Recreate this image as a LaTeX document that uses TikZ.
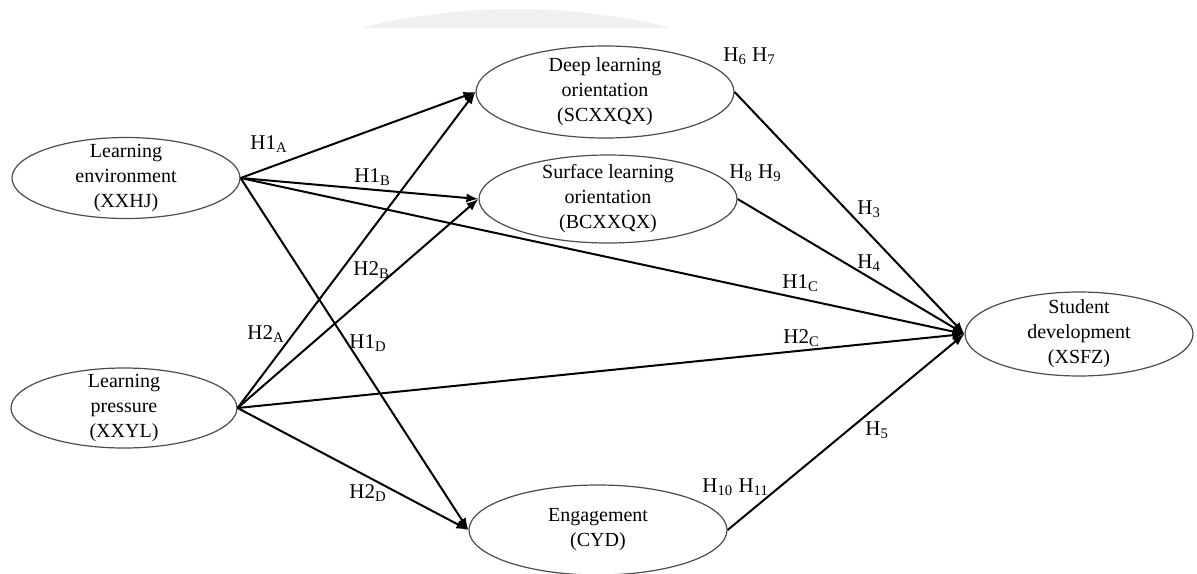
\documentclass[tikz,border=0pt]{standalone}
\usepackage{fontspec}
\setmainfont{Liberation Serif}
\usetikzlibrary{shapes.geometric,arrows.meta}
\newcommand\hyp[2]{H#1\textsubscript{#2}}
\begin{document}
\begin{tikzpicture}[x=0.5pt,y=-0.5pt,
  construct/.style={draw=black!70,line width=0.6pt,ellipse,inner sep=0pt},
  ctext/.style={align=center,font=\fontsize{10}{12.5}\selectfont,inner sep=0pt},
  path/.style={line width=1pt,-{Latex[length=6pt,width=4.6pt]}},
  link/.style={line width=1pt},
  hlabel/.style={anchor=base west,inner sep=0pt,font=\fontsize{10.5}{12}\selectfont}]
\useasboundingbox (0,0) rectangle (1197,573);

% faint banner shape at the top edge
\begin{scope}
  \clip (300,0) rectangle (750,27);
  \fill[black!6] (516,651) circle[radius=642];
\end{scope}

% constructs
\node[construct,minimum width=114pt,minimum height=40.5pt,
      label={[ctext]center:Learning\\environment\\(XXHJ)}] (env) at (126,178) {};
\node[construct,minimum width=113pt,minimum height=40pt,
      label={[ctext]center:Learning\\pressure\\(XXYL)}] (pres) at (124,408) {};
\node[construct,minimum width=129pt,minimum height=46pt,
      label={[ctext]center:Deep learning\\orientation\\(SCXXQX)}] (deep) at (605,92) {};
\node[construct,minimum width=129pt,minimum height=44pt,
      label={[ctext]center:Surface learning\\orientation\\(BCXXQX)}] (surf) at (608,199) {};
\node[construct,minimum width=114pt,minimum height=42pt,
      label={[ctext]center:Student\\development\\(XSFZ)}] (stud) at (1079,334) {};
\node[construct,minimum width=129pt,minimum height=45pt,
      label={[ctext]center:Engagement\\(CYD)}] (eng) at (598,530) {};

% paths from learning environment
\draw[path] (env.east) -- (deep.west);
\draw[path] (env.east) -- (surf.west);
\draw[path] (env.east) -- (stud.west);
\draw[path] (env.east) -- (eng.west);
% paths from learning pressure
\draw[path] (pres.east) -- (deep.west);
\draw[path] (pres.east) -- (surf.west);
\draw[path] (pres.east) -- (stud.west);
\draw[path] (pres.east) -- (eng.west);
% mediators to student development
\draw[path] (deep.east) -- (stud.west);
\draw[path] (surf.east) -- (stud.west);
\draw[path] (eng.east) -- (stud.west);

% hypothesis labels
\node[hlabel] (lh1a) at (250,149) {\hyp{1}{A}};
\node[hlabel] (lh1b) at (354,182) {\hyp{1}{B}};
\node[hlabel] (lh2b) at (353,275) {\hyp{2}{B}};
\node[hlabel] (lh2a) at (247,339) {\hyp{2}{A}};
\node[hlabel] (lh1d) at (349,348) {\hyp{1}{D}};
\node[hlabel] (lh2d) at (349,498) {\hyp{2}{D}};
\node[hlabel] (lh1c) at (782,288) {\hyp{1}{C}};
\node[hlabel] (lh2c) at (783,343) {\hyp{2}{C}};
\node[hlabel] (lh3) at (857,214) {\hyp{}{3}};
\node[hlabel] (lh4) at (857,268) {\hyp{}{4}};
\node[hlabel] (lh5) at (865,435) {\hyp{}{5}};
\node[hlabel] (lh67) at (723,61) {\hyp{}{6} \hyp{}{7}};
\node[hlabel] (lh89) at (729,178) {\hyp{}{8} \hyp{}{9}};
\node[hlabel] (lh1011) at (702,492) {\hyp{}{10} \hyp{}{11}};
\end{tikzpicture}
\end{document}
